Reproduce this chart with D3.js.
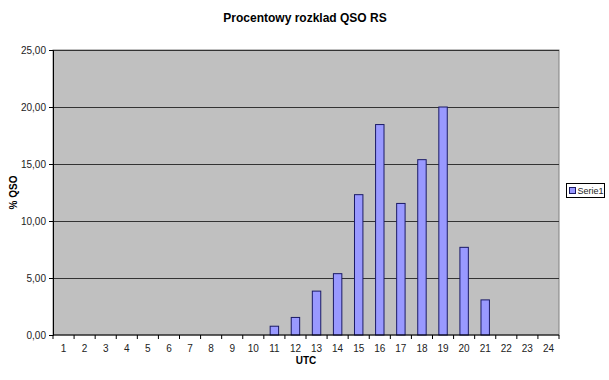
<!DOCTYPE html>
<html>
<head>
<meta charset="utf-8">
<script src="https://cdn.jsdelivr.net/npm/d3@7"></script>
<style>
  body { margin: 0; background: #fff; }
  svg { font-family: "Liberation Sans", Arial, sans-serif; }
</style>
</head>
<body>
<div id="chart"></div>
<script>
// hours 1..24 and share of QSO in percent
const hours = d3.range(1, 25).map(String)
const values = [0, 0, 0, 0, 0, 0, 0, 0, 0, 0,
  0.77, 1.54, 3.85, 5.38, 12.31, 18.46, 11.54, 15.38, 20.00, 7.69, 3.08,
  0, 0, 0]
const yTicks = [0, 5, 10, 15, 20, 25]
const seriesName = 'Serie1'

const width = 609
const height = 380
const margin = { top: 50, right: 50, bottom: 45, left: 53 }
const fmt = d => d.toFixed(2).replace('.', ',')

const data = hours.map((h, i) => ({ hour: h, value: values[i] }))

const svg = d3.select('#chart')
  .append('svg')
  .attr('width', width)
  .attr('height', height)

const x = d3.scaleBand()
  .domain(hours)
  .range([margin.left, width - margin.right])
  .paddingInner(0.6)
  .paddingOuter(0.3)

const y = d3.scaleLinear()
  .domain([0, 25])
  .range([height - margin.bottom, margin.top])

// plot area
svg.append('rect')
  .attr('x', margin.left)
  .attr('y', margin.top)
  .attr('width', width - margin.left - margin.right)
  .attr('height', height - margin.top - margin.bottom)
  .attr('fill', '#c0c0c0')
  .attr('stroke', '#808080')

// gridlines
svg.append('g')
  .selectAll('line')
  .data(yTicks.slice(1))
  .enter().append('line')
  .attr('x1', margin.left)
  .attr('x2', width - margin.right)
  .attr('y1', d => Math.round(y(d)) + 0.5)
  .attr('y2', d => Math.round(y(d)) + 0.5)
  .attr('stroke', '#333')

// bars
svg.append('g')
  .selectAll('rect')
  .data(data.filter(d => d.value > 0))
  .enter().append('rect')
  .attr('x', d => x(d.hour))
  .attr('y', d => y(d.value))
  .attr('width', x.bandwidth())
  .attr('height', d => y(0) - y(d.value))
  .attr('fill', '#9999ff')
  .attr('stroke', '#1a1a66')

// y axis
const yAxis = svg.append('g')
  .attr('transform', `translate(${margin.left},0)`)
  .call(d3.axisLeft(y).tickValues(yTicks).tickFormat(fmt).tickSize(4).tickPadding(3))
yAxis.selectAll('text').attr('font-size', 10).attr('fill', '#222')
yAxis.selectAll('path, line').attr('stroke', '#000')

// x axis, ticks between categories
const xAxisG = svg.append('g')
  .attr('transform', `translate(0,${height - margin.bottom})`)
xAxisG.append('line')
  .attr('x1', margin.left).attr('x2', width - margin.right)
  .attr('stroke', '#000')
const catW = (width - margin.left - margin.right) / hours.length
xAxisG.selectAll('.tk')
  .data(d3.range(hours.length + 1))
  .enter().append('line')
  .attr('x1', i => margin.left + i * catW)
  .attr('x2', i => margin.left + i * catW)
  .attr('y1', 0).attr('y2', 4)
  .attr('stroke', '#000')
xAxisG.selectAll('text')
  .data(hours)
  .enter().append('text')
  .attr('x', d => x(d) + x.bandwidth() / 2)
  .attr('y', 17)
  .attr('text-anchor', 'middle')
  .attr('font-size', 10)
  .attr('fill', '#222')
  .text(d => d)

// titles
svg.append('text')
  .attr('x', 305).attr('y', 22)
  .attr('text-anchor', 'middle')
  .attr('font-size', 12).attr('font-weight', 'bold')
  .text('Procentowy rozklad QSO RS')

svg.append('text')
  .attr('x', (margin.left + width - margin.right) / 2).attr('y', 364)
  .attr('text-anchor', 'middle')
  .attr('font-size', 10).attr('font-weight', 'bold')
  .text('UTC')

svg.append('text')
  .attr('transform', `translate(17,${(margin.top + height - margin.bottom) / 2}) rotate(-90)`)
  .attr('text-anchor', 'middle')
  .attr('font-size', 10).attr('font-weight', 'bold')
  .text('% QSO')

// legend
const lg = svg.append('g').attr('transform', 'translate(566.5,183.5)')
lg.append('rect').attr('width', 38).attr('height', 14)
  .attr('fill', '#fff').attr('stroke', '#000')
lg.append('rect').attr('x', 3).attr('y', 4).attr('width', 6).attr('height', 6)
  .attr('fill', '#9999ff').attr('stroke', '#1a1a66')
lg.append('text').attr('x', 11).attr('y', 10.5)
  .attr('font-size', 9).attr('fill', '#222')
  .text(seriesName)
</script>
</body>
</html>
